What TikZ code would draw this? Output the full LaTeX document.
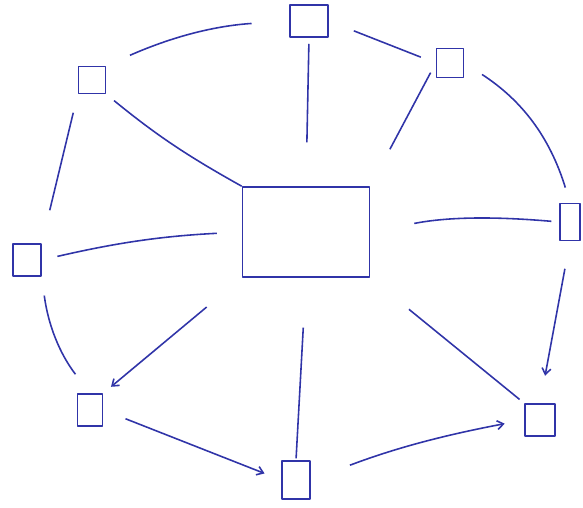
\documentclass[tikz,border=0pt]{standalone}
\usepackage{xcolor}
\usepackage{tikz}
\usetikzlibrary{arrows.meta}
\definecolor{ink}{RGB}{48,52,168}

\begin{document}
\begin{tikzpicture}[x=0.02cm,y=-0.02cm,line join=round,
    box/.style={draw=ink,line width=0.9pt,inner sep=0pt},
    link/.style={draw=ink,line width=0.9pt},
    tip/.style={-{Straight Barb[length=3.5pt,width=5pt]}}]
  \useasboundingbox (0,0) rectangle (583,508);
  \node[box,minimum width=2.54cm,minimum height=1.80cm] (hub) at (306,232) {};
  \node[box,minimum width=0.54cm,minimum height=0.54cm] (sqTL) at (92,80) {};
  \node[box,minimum width=0.76cm,minimum height=0.64cm] (sqT) at (309,21) {};
  \node[box,minimum width=0.54cm,minimum height=0.58cm] (sqTR) at (450,63) {};
  \node[box,minimum width=0.40cm,minimum height=0.74cm] (sqR) at (570,222) {};
  \node[box,minimum width=0.60cm,minimum height=0.64cm] (sqBR) at (540,420) {};
  \node[box,minimum width=0.56cm,minimum height=0.76cm] (sqB) at (296,480) {};
  \node[box,minimum width=0.50cm,minimum height=0.64cm] (sqBL) at (90,410) {};
  \node[box,minimum width=0.56cm,minimum height=0.64cm] (sqL) at (27,260) {};
  % outer ring
  \draw[link,shorten <=14.7pt,shorten >=21.5pt] (sqTL.north east) to[bend left=10] (sqT.west);
  \draw[link,shorten <=15.3pt,shorten >=9.1pt] (sqT.east) -- (sqTR.west);
  \draw[link,shorten <=12pt,shorten >=9pt] (sqTR.east) to[bend left=20] (sqR.north);
  \draw[link,tip,shorten <=15.9pt,shorten >=15.9pt] (sqR.south) -- (sqBR.north);
  \draw[link,tip,shorten <=23.8pt,shorten >=11.3pt] (sqB.east) to[bend left=5] (sqBR.west);
  \draw[link,tip,shorten <=13.6pt,shorten >=10.2pt] (sqBL.east) -- (sqB.west);
  \draw[link,shorten <=10.8pt,shorten >=13.6pt] (sqL.south east) to[bend right=15] (sqBL.north);
  \draw[link,shorten <=19.3pt,shorten >=10.8pt] (sqL.north east) -- (sqTL.south west);
  % spokes
  \draw[link,shorten <=5.7pt] (sqTL.south east) to[bend right=5] (hub.north west);
  \draw[link,shorten <=3.4pt,shorten >=25pt] (sqT.south) -- (hub.north);
  \draw[link,shorten <=6.2pt,shorten >=23.8pt] (sqTR.west) -- (hub.north east);
  \draw[link,shorten <=4.5pt,shorten >=25.5pt] (sqR.west) to[bend right=8] (hub.east);
  \draw[link,shorten <=28.4pt,shorten >=3.4pt] (hub.south east) -- (sqBR.north west);
  \draw[link,shorten <=28.4pt,shorten >=1.1pt] (hub.south) -- (sqB.north);
  \draw[link,tip,shorten <=26pt,shorten >=5.7pt] (hub.south west) -- (sqBL.north east);
  \draw[link,shorten <=9.1pt,shorten >=14.2pt] (sqL.east) to[bend left=5] (hub.west);
\end{tikzpicture}
\end{document}
